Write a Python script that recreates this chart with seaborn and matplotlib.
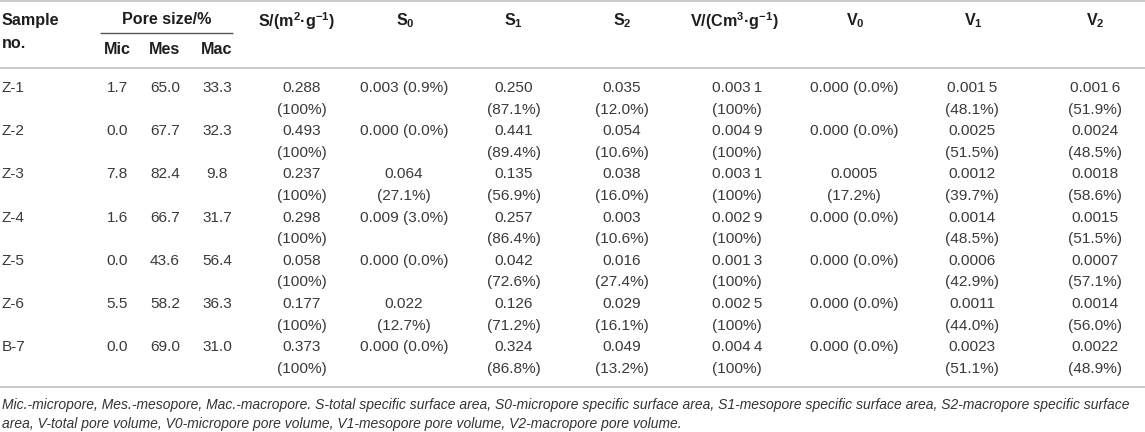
import matplotlib
matplotlib.use("Agg")
import matplotlib.pyplot as plt
import seaborn as sns

sns.set_theme(style="white")
plt.rcParams["font.family"] = ["Liberation Sans", "DejaVu Sans"]
plt.rcParams["mathtext.fontset"] = "custom"
plt.rcParams["mathtext.rm"] = "Liberation Sans"
plt.rcParams["mathtext.bf"] = "Liberation Sans:bold"
plt.rcParams["mathtext.it"] = "Liberation Sans:italic"

# ---- table data ----
samples = ["Z-1", "Z-2", "Z-3", "Z-4", "Z-5", "Z-6", "B-7"]
mic = [1.7, 0.0, 7.8, 1.6, 0.0, 5.5, 0.0]
mes = [65.0, 67.7, 82.4, 66.7, 43.6, 58.2, 69.0]
mac = [33.3, 32.3, 9.8, 31.7, 56.4, 36.3, 31.0]

s_total = ["0.288", "0.493", "0.237", "0.298", "0.058", "0.177", "0.373"]
s0 = ["0.003", "0.000", "0.064", "0.009", "0.000", "0.022", "0.000"]
s0_pct = [0.9, 0.0, 27.1, 3.0, 0.0, 12.7, 0.0]
s1 = ["0.250", "0.441", "0.135", "0.257", "0.042", "0.126", "0.324"]
s1_pct = [87.1, 89.4, 56.9, 86.4, 72.6, 71.2, 86.8]
s2 = ["0.035", "0.054", "0.038", "0.003", "0.016", "0.029", "0.049"]
s2_pct = [12.0, 10.6, 16.0, 10.6, 27.4, 16.1, 13.2]

v_total = ["0.003\u20091", "0.004\u20099", "0.003\u20091", "0.002\u20099",
           "0.001\u20093", "0.002\u20095", "0.004\u20094"]
v0 = ["0.000", "0.000", "0.0005", "0.000", "0.000", "0.000", "0.000"]
v0_pct = [0.0, 0.0, 17.2, 0.0, 0.0, 0.0, 0.0]
v1 = ["0.001\u20095", "0.0025", "0.0012", "0.0014", "0.0006", "0.0011", "0.0023"]
v1_pct = [48.1, 51.5, 39.7, 48.5, 42.9, 44.0, 51.1]
v2 = ["0.001\u20096", "0.0024", "0.0018", "0.0015", "0.0007", "0.0014", "0.0022"]
v2_pct = [51.9, 48.5, 58.6, 51.5, 57.1, 56.0, 48.9]

headers = ["S/(m$^\\mathbf{2}$·g$^\\mathbf{-1}$)", "S$_\\mathbf{0}$", "S$_\\mathbf{1}$",
           "S$_\\mathbf{2}$", "V/(Cm$^\\mathbf{3}$·g$^\\mathbf{-1}$)", "V$_\\mathbf{0}$",
           "V$_\\mathbf{1}$", "V$_\\mathbf{2}$"]

footnote = [
    "Mic.-micropore, Mes.-mesopore, Mac.-macropore. S-total specific surface area, "
    "S0-micropore specific surface area, S1-mesopore specific surface area, "
    "S2-macropore specific surface",
    "area, V-total pore volume, V0-micropore pore volume, V1-mesopore pore volume, "
    "V2-macropore pore volume.",
]

# ---- layout (pixels) ----
W, H = 1145, 432
pore_x = [117, 165, 217]
col_x = [302, 404, 514, 622, 737, 854, 972, 1095]
head_x = [297, 405, 513, 622, 734, 855, 973, 1095]
row0, pitch = 88, 21.6
data_color = "#3a3a3a"
head_color = "#1e1e1e"
line_color = "#c9c9c9"
fs_data = 11.1
fs_head = 11.6

fig = plt.figure(figsize=(W / 100, H / 100), dpi=100)
ax = fig.add_axes([0, 0, 1, 1])
ax.set_xlim(0, W)
ax.set_ylim(H, 0)
ax.axis("off")

# rules
for y in [1, 68, 387]:
    ax.hlines(y, 0, W, color=line_color, lw=1.4)
ax.hlines(33, 100, 233, color="#555555", lw=1.0)

# header
hk = dict(fontsize=fs_head, fontweight="bold", color=head_color, va="center")
ax.text(2, 20, "Sample", ha="left", **hk)
ax.text(2, 43, "no.", ha="left", **hk)
ax.text(167, 20, "Pore size/%", ha="center", **hk)
for x, lab in zip(pore_x, ["Mic", "Mes", "Mac"]):
    ax.text(x, 50, lab, ha="center", **hk)
for x, lab in zip(head_x, headers):
    ax.text(x, 21, lab, ha="center", **hk)

# body
dk = dict(fontsize=fs_data, color=data_color, va="center", ha="center")


def cell(x, y, val, pct):
    # short percentages fit on one line, others wrap
    if pct < 10:
        ax.text(x, y, f"{val} ({pct:.1f}%)", **dk)
    else:
        p = "100%" if pct == 100 else f"{pct:.1f}%"
        ax.text(x, y, val, **dk)
        ax.text(x, y + pitch, f"({p})", **dk)


for i, name in enumerate(samples):
    y = row0 + i * 2 * pitch
    ax.text(2, y, name, fontsize=fs_data, color=data_color, va="center", ha="left")
    for x, v in zip(pore_x, [mic[i], mes[i], mac[i]]):
        ax.text(x, y, f"{v:.1f}", **dk)
    cols = [(s_total[i], 100), (s0[i], s0_pct[i]), (s1[i], s1_pct[i]),
            (s2[i], s2_pct[i]), (v_total[i], 100), (v0[i], v0_pct[i]),
            (v1[i], v1_pct[i]), (v2[i], v2_pct[i])]
    for x, (val, pct) in zip(col_x, cols):
        cell(x, y, val, pct)

# footnote, sized so the first line spans like the original
fn = ax.text(2, 405, footnote[0], fontsize=9.5, style="italic", color="#333333",
             va="center", ha="left")
fig.canvas.draw()
wpx = fn.get_window_extent().width
fsz = 9.5 * (1128 / wpx)
fn.set_fontsize(fsz)
ax.text(2, 424, footnote[1], fontsize=fsz, style="italic", color="#333333",
        va="center", ha="left")

fig.savefig("out.png", dpi=100)
